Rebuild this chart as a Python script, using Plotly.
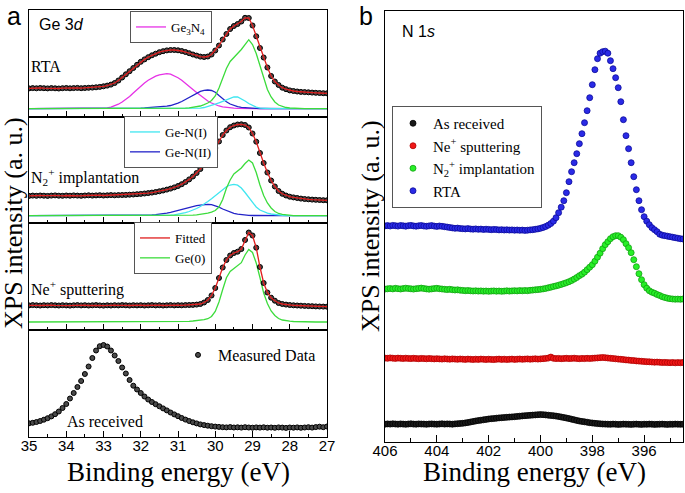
import plotly.graph_objects as go

# ---------------- Panel a: Ge 3d (binding energy 35 -> 27 eV, 0.1 eV steps) ----------------
ge_energy = [round(35.0 - 0.1 * i, 1) for i in range(81)]

# intensities are heights above the bottom of each sub-panel (arbitrary units)
rta_measured = [28.6, 28.9, 28.7, 29.0, 28.8, 28.6, 28.9, 28.7, 28.5, 28.8, 29.0, 28.7, 28.9, 29.1, 28.8, 29.0, 29.2,
                29.4, 29.7, 30.1, 30.7,
                31.4, 32.4, 34.0, 36.5, 39.5,
                42.7, 45.8, 49.0, 52.2, 55.2,
                57.6, 59.8, 61.7, 63.3, 64.8,
                65.8, 66.6, 67.0, 67.0, 66.7,
                66.0, 65.0, 63.8, 62.5, 61.4,
                60.4, 60.0, 60.5, 62.5, 66.5,
                71.5, 77.5, 83.0, 88.0, 91.0,
                93.0, 95.5, 99.2, 99.0, 91.5,
                80.7, 69.0, 59.5, 49.5, 41.0,
                35.5, 32.0, 29.3, 27.8, 26.6,
                26.0, 25.5, 25.1, 24.9, 24.7,
                24.4, 24.2, 24.0, 23.8, 23.7]
rta_ge3n4 = [8.3] * 20 + [8.5, 9.0, 9.8, 11.0, 12.8, 15.0,
                          17.6, 20.5, 24.0, 27.5, 31.0,
                          34.0, 36.7, 39.0, 40.8, 42.2,
                          43.0, 43.3, 42.9, 41.5, 39.3,
                          36.8, 34.0, 31.0, 27.5, 24.5,
                          21.5, 18.5, 16.0, 14.0, 12.3,
                          11.0, 10.2, 9.6, 9.1, 8.8,
                          8.6, 8.4] + [8.3] * 23
rta_gen2 = [8.3] * 27 + [8.4, 8.5, 8.7, 8.9,
                         9.1, 9.3, 9.5, 9.7, 9.9,
                         10.3, 10.8, 11.5, 12.5, 13.8,
                         15.5, 17.5, 19.8, 22.0, 24.0,
                         25.6, 26.6, 27.0, 26.5, 24.8,
                         21.5, 18.0, 15.3, 13.0, 11.4,
                         10.3, 9.6, 9.2, 8.9, 8.7,
                         8.6, 8.5, 8.4] + [8.3] * 17
rta_gen1 = [8.3] * 45 + [8.5, 8.9, 9.5, 10.4, 11.5, 12.8,
                         14.2, 15.7, 17.3, 18.8, 20.0,
                         20.0, 18.4, 16.0, 13.5, 11.3,
                         9.8, 8.9, 8.5] + [8.3] * 17
rta_ge0 = [8.3] * 40 + [8.4, 8.6, 8.8, 9.1, 9.6, 10.2,
                        11.0, 12.4, 14.0, 16.5, 21.0,
                        29.0, 38.5, 48.5, 55.5, 60.0,
                        63.5, 67.5, 73.0, 77.3, 72.5,
                        63.5, 51.5, 38.5, 27.5, 20.0,
                        15.0, 12.0, 10.5, 9.5, 9.0,
                        8.7, 8.5, 8.4] + [8.3] * 7

n2_measured = [27.1, 27.4, 27.2, 27.5, 27.3, 27.1, 27.4, 27.6, 27.3, 27.2, 27.5, 27.3, 27.6, 27.4, 27.2, 27.5,
               27.7, 27.4, 27.6, 27.8, 27.5, 27.7, 27.9, 27.7, 27.9,
               28.0, 28.1, 28.3, 28.5, 28.8, 29.1,
               29.5, 29.9, 30.4, 31.0, 31.7,
               32.5, 33.4, 34.4, 35.6, 37.0,
               38.8, 41.0, 43.6, 46.5, 50.0,
               54.0, 58.5, 63.5, 69.0, 75.0,
               81.5, 88.0, 92.5, 95.8, 97.5,
               98.5, 98.7, 98.0, 95.5, 89.5,
               81.3, 70.0, 60.0, 50.5, 42.5,
               36.5, 32.0, 29.2, 27.5, 26.3,
               25.6, 25.0, 24.4, 24.0, 23.7,
               23.4, 23.2, 23.0, 22.8, 22.7]
n2_gen2 = [7.3] * 29 + [7.4, 7.5,
                        7.6, 7.8, 8.0, 8.3, 8.7,
                        9.2, 9.9, 10.7, 11.7, 12.8,
                        13.9, 15.0, 16.0, 16.8, 17.4,
                        17.9, 18.3, 18.6, 18.3, 17.3,
                        15.8, 14.0, 12.3, 10.8, 9.6,
                        8.8, 8.2, 7.8, 7.6, 7.5,
                        7.4] + [7.3] * 19
n2_gen1 = [7.3] * 37 + [7.5, 7.8, 8.2, 8.7,
                        9.4, 10.3, 11.5, 12.9, 14.5,
                        16.5, 18.8, 21.5, 24.3, 27.5,
                        30.8, 33.8, 36.3, 38.0, 38.7,
                        37.8, 35.0, 30.5, 25.3, 20.0,
                        16.0, 13.0, 11.0, 9.8, 9.0,
                        8.4, 8.0, 7.7, 7.5, 7.4] + [7.3] * 10
n2_ge0 = [7.3] * 42 + [7.4, 7.6, 7.8, 8.1,
                       8.5, 9.0, 9.8, 10.8, 12.5,
                       16.0, 23.5, 34.7, 43.0, 49.0,
                       52.0, 55.0, 59.5, 63.0, 60.0,
                       50.5, 38.0, 27.5, 20.0, 15.0,
                       11.5, 9.5, 8.6, 8.0, 7.6,
                       7.4] + [7.3] * 9

ne_measured = [24.6, 24.9, 24.7, 24.5, 24.8, 24.6, 24.9, 24.7, 24.5, 24.8,
               24.6, 24.4, 24.7, 24.9, 24.6, 24.8, 24.5, 24.7, 24.9, 24.6,
               24.4, 24.7, 24.5, 24.8, 24.6, 24.9, 24.7, 24.5, 24.8, 24.6,
               24.8, 24.5, 24.7, 24.9, 24.6, 24.8, 24.5, 24.7, 24.9, 24.6,
               24.8, 24.7, 24.9, 25.0,
               25.1, 25.4, 26.0, 27.5, 30.0, 34.5, 42.0,
               52.0, 62.5, 70.0, 74.5, 77.0,
               78.3, 81.0, 90.0, 97.5, 94.5,
               82.3, 63.0, 47.0, 37.5, 32.3,
               29.3, 27.0, 26.0, 25.4, 25.0,
               24.7, 24.5, 24.3, 24.1, 23.9,
               23.8, 23.6, 23.5, 23.4, 23.3]
ne_ge0 = [8.0] * 40 + [8.1, 8.3, 8.5, 8.7, 9.0, 9.3,
                       9.7, 10.3, 11.3, 13.5, 18.5,
                       28.0, 40.5, 52.3, 58.5, 61.5,
                       64.0, 67.3, 75.0, 80.5, 77.5,
                       67.0, 52.5, 37.0, 26.5, 19.0,
                       14.5, 11.5, 10.0, 9.2, 8.8,
                       8.5, 8.3, 8.1] + [8.0] * 7

asrec_measured = [13.7, 14.2, 15.0, 16.0, 17.3, 18.8, 20.6, 22.8, 25.5, 29.0,
                  33.0, 38.5, 44.0, 50.0, 56.0, 63.0, 70.5, 79.0, 86.5, 90.8,
                  92.0, 90.5, 86.5, 81.5, 76.0, 69.5, 63.5, 57.0, 51.3, 47.5,
                  44.0, 40.5, 37.5, 35.0, 32.8, 30.7, 28.6, 26.6, 24.5, 22.6,
                  20.8, 19.0, 17.4, 16.0, 14.7, 13.6, 12.6, 11.9, 11.3, 10.8,
                  10.4,
                  10.1, 9.8, 9.6, 9.9, 9.5, 9.7, 9.4, 9.8, 9.5, 9.3,
                  9.6, 9.4, 9.7, 9.3, 9.5, 9.2, 9.6, 9.4, 9.1, 9.5,
                  9.3, 9.6, 9.2, 9.5, 9.8, 9.4, 9.9, 10.3, 9.8, 10.5]

# ---------------- Panel b: N 1s (binding energy 406 -> 394.5 eV, 0.1 eV steps) ----------------
n1s_energy = [round(406.0 - 0.1 * i, 1) for i in range(116)]

n1s_asrec = [17.5, 17.8, 17.6, 17.9, 17.7, 17.5, 17.8, 17.6, 17.4, 17.7,
             17.9, 17.6, 17.5, 17.8, 17.7, 17.6, 17.4, 17.7, 17.8, 17.6,
             17.5, 17.7, 17.9, 17.6, 17.8, 17.7, 17.5, 17.8, 18.0, 18.2, 18.4,
             18.8, 19.2, 19.7, 20.2, 20.7,
             21.1, 21.5, 21.9, 22.3, 22.7,
             23.0, 23.2, 23.5, 23.8, 24.0,
             24.2, 24.4, 24.6, 24.8, 25.0,
             25.3, 25.5, 25.8, 26.0, 26.2, 26.4,
             26.6, 26.8, 27.0, 27.1,
             27.0, 26.8, 26.5, 26.2, 26.0,
             25.6, 25.2, 24.7, 24.2, 23.7,
             23.1, 22.5, 21.9, 21.3, 20.7,
             20.3, 19.9, 19.5, 19.0,
             18.7, 18.4, 18.1, 17.9, 17.7,
             17.6, 17.5, 17.4, 17.6, 17.5, 17.3, 17.4, 17.6, 17.5, 17.4,
             17.3, 17.5, 17.6, 17.4, 17.3, 17.5, 17.4, 17.6, 17.5, 17.3,
             17.4, 17.5, 17.6, 17.4, 17.3, 17.5, 17.4, 17.6, 17.5, 17.4, 17.5]
n1s_ne = [83.6, 83.4, 83.8, 83.5, 83.3, 83.6, 83.4, 83.2, 83.5, 83.3,
          83.1, 83.4, 83.2, 83.0, 83.3, 83.1, 82.9, 83.2, 83.0, 82.8,
          83.0, 82.8, 82.6, 82.9, 82.7, 82.5, 82.8, 82.6, 82.4, 82.7,
          82.5, 82.3, 82.6, 82.4, 82.2, 82.5, 82.3, 82.6, 82.4, 82.2,
          82.5, 82.3, 82.1, 82.4, 82.6, 82.3, 82.5, 82.2, 82.4, 82.6,
          82.3, 82.5, 82.7, 82.4, 82.6, 82.8, 82.5, 82.7, 82.9, 82.6,
          82.8, 83.0, 83.3, 83.6, 84.6, 83.4, 83.1, 83.3, 83.0, 83.2,
          83.4, 83.1, 83.3, 83.5, 83.2, 83.0, 83.3, 83.1, 83.4, 83.2,
          83.4, 83.6, 83.8, 84.0, 84.2, 84.0, 83.7, 83.4, 83.2, 82.9,
          82.6, 82.4, 82.1, 81.8, 81.6, 81.3, 81.1, 80.8, 80.6, 80.4,
          80.2, 80.0, 79.9, 79.7, 79.5, 79.6, 79.4, 79.2, 79.3, 79.1,
          79.0, 79.2, 78.9, 79.1, 79.0, 79.2]
n1s_n2 = [152.6, 152.9, 153.2, 152.8, 153.4, 153.0, 152.7, 153.1, 153.5, 153.2,
          152.9, 152.6, 153.0, 153.3, 153.6, 153.2, 152.8, 152.5, 152.8, 153.1,
          153.4, 153.0, 152.7, 152.4, 152.1, 152.4, 152.0, 151.7, 151.9, 151.5, 151.3,
          151.0, 151.2, 150.9, 150.7, 150.9, 150.6, 150.8, 150.5, 150.7, 150.4,
          150.6, 150.8, 150.5, 150.7, 150.4, 150.6, 150.9, 150.6, 150.8, 151.0,
          150.8, 151.1, 150.9, 151.2, 151.0,
          151.4, 151.6, 151.9, 152.1, 152.4,
          152.8, 153.3, 153.9, 154.5, 155.2,
          155.8, 156.5, 157.3, 158.1, 159.0,
          160.0, 161.2, 162.6, 164.2, 166.0,
          167.5, 169.5, 172.0, 174.5, 177.0,
          180.5, 184.5, 188.5, 193.0, 197.0,
          200.0, 203.0, 205.0, 206.0, 206.0,
          204.5, 202.0, 198.0, 194.0, 189.0,
          182.0, 175.0, 168.0, 162.0, 157.0,
          153.5, 151.0, 149.5, 148.5, 147.2,
          146.2, 145.0, 144.2, 143.5, 143.0,
          142.7, 142.5, 142.6, 142.4, 142.7]
n1s_rta = [215.8, 216.1, 215.7, 216.3, 216.0, 215.6, 216.2, 215.9, 215.5, 216.0,
           216.3, 215.8, 215.5, 215.9, 216.2, 215.7, 215.4, 215.8, 216.1, 215.6,
           215.3, 215.7, 215.4, 215.0, 214.6, 214.2, 213.8, 213.4, 213.6, 213.2, 213.0,
           212.8, 213.1, 212.7, 212.5, 212.8, 212.4, 212.6, 212.2, 212.5, 212.3,
           212.0, 212.3, 212.1, 211.8, 212.0, 211.7, 211.9, 211.6, 211.8, 211.5,
           211.7, 211.4, 211.6, 211.3, 211.5,
           211.8, 212.0, 212.4, 212.8, 213.4,
           214.2, 215.2, 216.5, 218.2, 220.5,
           224.0, 229.0, 234.5, 241.0, 249.0,
           260.0, 270.0, 279.0, 288.0, 298.0,
           308.0, 319.0, 331.0, 344.0, 357.0,
           372.0, 383.0, 388.5, 390.0, 390.5,
           388.5, 381.0, 373.0, 364.0, 354.0,
           340.0, 322.0, 306.0, 293.0, 279.0,
           265.0, 252.0, 241.0, 232.0, 225.0,
           220.5, 217.0, 214.0, 212.0, 210.0,
           207.5, 206.5, 206.0, 205.5, 205.0,
           204.5, 204.0, 203.5, 203.0, 202.7]

# ---------------- colours / fonts ----------------
C_MAG, C_BLUE, C_CYAN, C_GREEN, C_RED = "#e632e6", "#2323c8", "#40e6f0", "#3cdc3c", "#e01e1e"
SERIF = "Liberation Serif"
SANS = "Liberation Sans"

W, H = 685, 493
def px(x): return x / W
def py(y): return 1 - y / H

# ---------------- layout geometry (pixels) ----------------
A_LEFT, A_RIGHT = 29, 327
A_ROWS = [(9.5, 117), (117, 223), (223, 330), (330, 437)]
B_LEFT, B_RIGHT, B_TOP, B_BOT = 385, 683, 11, 441.7

fig = go.Figure()

def line(x, y, color, row, name=None, legend=None, rank=None, width=1.3):
    fig.add_trace(go.Scatter(
        x=x, y=y, mode="lines", line=dict(color=color, width=width),
        xaxis="x" if row == 1 else f"x{row}", yaxis="y" if row == 1 else f"y{row}",
        name=name, showlegend=legend is not None, legend=legend or "legend",
        legendrank=rank if rank else 1000))

def meas(x, y, row, name=None, legend=None):
    fig.add_trace(go.Scatter(
        x=x, y=y, mode="markers",
        marker=dict(size=5, color="#4a4a4a", line=dict(color="#000000", width=1)),
        xaxis="x" if row == 1 else f"x{row}", yaxis="y" if row == 1 else f"y{row}",
        name=name, showlegend=legend is not None, legend=legend or "legend"))

# RTA (row 1)
line(ge_energy, rta_ge3n4, C_MAG, 1, "Ge<sub>3</sub>N<sub>4</sub>", "legend")
line(ge_energy, rta_gen2, C_BLUE, 1)
line(ge_energy, rta_gen1, C_CYAN, 1)
line(ge_energy, rta_ge0, C_GREEN, 1)
meas(ge_energy, rta_measured, 1)
line(ge_energy, rta_measured, C_RED, 1, width=1.3)

# N2+ implantation (row 2)
line(ge_energy, n2_gen2, C_BLUE, 2, "Ge-N(II)", "legend2", 2)
line(ge_energy, n2_gen1, C_CYAN, 2, "Ge-N(I)", "legend2", 1)
line(ge_energy, n2_ge0, C_GREEN, 2)
meas(ge_energy, n2_measured, 2)
line(ge_energy, n2_measured, C_RED, 2, width=1.3)

# Ne+ sputtering (row 3)
line(ge_energy, ne_ge0, C_GREEN, 3, "Ge(0)", "legend3", 2)
meas(ge_energy, ne_measured, 3)
line(ge_energy, ne_measured, C_RED, 3, "Fitted", "legend3", 1, width=1.3)

# As received (row 4)
meas(ge_energy, asrec_measured, 4, "Measured Data", "legend4")

# Panel b
b_series = [("As received", n1s_asrec, "#1a1a1a", "#000000"),
            ("Ne<sup>+</sup> sputtering", n1s_ne, "#f01818", "#b00000"),
            ("N<sub>2</sub><sup>+</sup> implantation", n1s_n2, "#28f028", "#10a010"),
            ("RTA", n1s_rta, "#2a2ae6", "#0a0a9a")]
for name, vals, col, edge in b_series:
    fig.add_trace(go.Scatter(
        x=n1s_energy, y=vals, mode="markers", name=name,
        marker=dict(size=6, color=col, line=dict(color=edge, width=0.8)),
        xaxis="x5", yaxis="y5", legend="legend5"))

tickfont = dict(family=SANS, size=15, color="black")
layout = dict(width=W, height=H, autosize=False, margin=dict(l=0, r=0, t=0, b=0),
              paper_bgcolor="white", plot_bgcolor="white", annotations=[])

for r, (top, bot) in enumerate(A_ROWS, start=1):
    sx = "" if r == 1 else str(r)
    layout[f"xaxis{sx}"] = dict(
        domain=[px(A_LEFT), px(A_RIGHT)], anchor=f"y{sx}", range=[35, 27],
        showline=True, mirror=True, linecolor="black", linewidth=1,
        ticks="inside", ticklen=6, tickcolor="black", tickwidth=1, dtick=1, tick0=35,
        minor=dict(dtick=0.5, ticks="inside", ticklen=3, tickcolor="black"),
        showgrid=False, zeroline=False, showticklabels=(r == 4), tickfont=tickfont,
        ticklabelstandoff=-5, automargin=False)
    layout[f"yaxis{sx}"] = dict(
        domain=[py(bot), py(top)], anchor=f"x{sx}", range=[0, bot - top],
        showline=True, mirror=True, linecolor="black", linewidth=1,
        ticks="", showticklabels=False, showgrid=False, zeroline=False, automargin=False)

layout["xaxis5"] = dict(
    domain=[px(B_LEFT), px(B_RIGHT)], anchor="y5", range=[406, 394.5],
    showline=True, mirror=True, linecolor="black", linewidth=1,
    ticks="inside", ticklen=7, tickcolor="black", tickwidth=1, dtick=2, tick0=406,
    minor=dict(dtick=1, ticks="inside", ticklen=4, tickcolor="black"),
    showgrid=False, zeroline=False, tickfont=tickfont, ticklabelstandoff=-5, automargin=False)
layout["yaxis5"] = dict(
    domain=[py(B_BOT), py(B_TOP)], anchor="x5", range=[0, B_BOT - B_TOP],
    showline=True, mirror=True, linecolor="black", linewidth=1,
    ticks="", showticklabels=False, showgrid=False, zeroline=False, automargin=False)

box = dict(bgcolor="white", bordercolor="#555555", borderwidth=1, itemwidth=30,
           font=dict(family=SERIF, size=13, color="black"), xanchor="left", yanchor="top")
layout["legend"] = dict(box, x=px(130), y=py(11))
layout["legend2"] = dict(box, x=px(124), y=py(116))
layout["legend3"] = dict(box, x=px(134), y=py(222))
layout["legend4"] = dict(bgcolor="rgba(0,0,0,0)", borderwidth=0, itemwidth=30,
                         font=dict(family=SERIF, size=16, color="black"),
                         xanchor="left", yanchor="middle", x=px(178), y=py(355))
layout["legend5"] = dict(box, x=px(392), y=py(106), font=dict(family=SERIF, size=15, color="black"))

def ann(text, x, y, size, family=SERIF, xanchor="left", angle=0, yanchor="middle"):
    layout["annotations"].append(dict(
        text=text, x=px(x), y=py(y), xref="paper", yref="paper", showarrow=False,
        xanchor=xanchor, yanchor=yanchor, textangle=angle,
        font=dict(family=family, size=size, color="black")))

ann("RTA", 29, 67, 16)
ann("N<sub>2</sub><sup>+</sup> implantation", 29, 177, 16)
ann("Ne<sup>+</sup> sputtering", 29, 288, 16)
ann("As received", 65, 421, 16)
ann("Ge 3<i>d</i>", 37, 24, 16, SANS)
ann("N 1<i>s</i>", 400, 31, 16, SANS)
ann("a", 13.5, 0, 25, SANS, "center", yanchor="top")
ann("b", 365.5, 0, 25, SANS, "center", yanchor="top")
ann("Binding energy (eV)", 178, 472, 27, SERIF, "center")
ann("Binding energy (eV)", 534, 472, 27, SERIF, "center")
ann("XPS intensity (a. u.)", 14, 223, 26, SERIF, "center", -90)
ann("XPS intensity (a. u.)", 370, 226, 26, SERIF, "center", -90)

fig.update_layout(**layout)
fig.write_html("out.html", config={"responsive": False, "displayModeBar": False},
               post_script="document.body.style.margin='0';document.body.style.overflow='hidden';")
